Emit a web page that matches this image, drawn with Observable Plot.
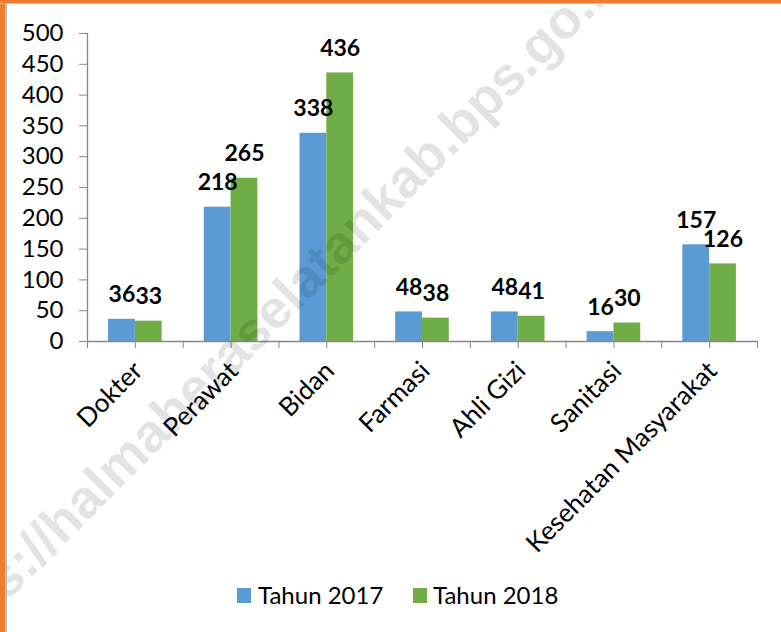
<!DOCTYPE html>
<html>
<head>
<meta charset="utf-8">
<script src="https://cdn.jsdelivr.net/npm/d3@7"></script>
<script src="https://cdn.jsdelivr.net/npm/@observablehq/plot@0.6"></script>
<style>
  html, body { margin: 0; padding: 0; background: #fff; }
  #page { position: relative; width: 781px; height: 632px; overflow: hidden; background: #fff; font-family: Lato, sans-serif; }
  #borderLeft { position: absolute; left: 0; top: 0; width: 5px; height: 632px; background: #ED7D31; border-right: 2px solid #bdbdbd; }
  #borderTop { position: absolute; left: 0; top: 0; width: 781px; height: 3px; background: #ED7D31; border-bottom: 1px solid #bdbdbd; }
  #chart { position: absolute; left: 0; top: 0; }
  #legend { position: absolute; left: 0; top: 580px; width: 781px; height: 32px; font-family: Lato, sans-serif; font-size: 24px; color: #000; }
  .sw { position: absolute; top: 8px; width: 14px; height: 15px; }
  .lt { position: absolute; top: 1px; line-height: 28px; }
  #wm { position: absolute; left: 0; top: 0; pointer-events: none; }
</style>
</head>
<body>
<div id="page">
  <div id="chart"></div>
  <div id="legend"></div>
  <svg id="wm" width="781" height="632"></svg>
  <div id="borderLeft"></div>
  <div id="borderTop"></div>
</div>
<script>
const categories = ["Dokter", "Perawat", "Bidan", "Farmasi", "Ahli Gizi", "Sanitasi", "Kesehatan Masyarakat"];
const values2017 = [36, 218, 338, 48, 48, 16, 157];
const values2018 = [33, 265, 436, 38, 41, 30, 126];
const seriesNames = ["Tahun 2017", "Tahun 2018"];
const seriesColors = ["#5B9BD5", "#70AD47"];
const yTicks = [0, 50, 100, 150, 200, 250, 300, 350, 400, 450, 500];
const watermarkText = "https://halmaheraselatankab.bps.go.id";

const axisColor = "#868686";
const barFrac = 0.28;

const rows = [];
categories.forEach((c, i) => {
  rows.push({cat: c, i, series: seriesNames[0], s: 0, value: values2017[i]});
  rows.push({cat: c, i, series: seriesNames[1], s: 1, value: values2018[i]});
});
const x1Of = d => d.i + 0.5 + (d.s === 0 ? -barFrac : 0);
const x2Of = d => d.i + 0.5 + (d.s === 0 ? 0 : barFrac);
const xMid = d => (x1Of(d) + x2Of(d)) / 2;
const catTicks = d3.range(0, categories.length * 2 + 1).map(k => k / 2);

const chart = Plot.plot({
  width: 781,
  height: 560,
  marginLeft: 87,
  marginRight: 24,
  marginTop: 33,
  marginBottom: 219,
  style: {fontFamily: "Lato, sans-serif", background: "transparent", color: "#000"},
  x: {domain: [0, categories.length], axis: null},
  y: {domain: [0, 500], axis: null},
  color: {domain: seriesNames, range: seriesColors},
  marks: [
    Plot.rectY(rows, {x1: x1Of, x2: x2Of, y: "value", fill: "series"}),
    Plot.ruleY([0], {stroke: axisColor, strokeWidth: 1.3}),
    Plot.ruleX([0], {stroke: axisColor, strokeWidth: 1.3}),
    Plot.axisY({ticks: yTicks, label: null, tickSize: 8, tickPadding: 16, fontSize: 24, stroke: axisColor, fill: "#000"}),
    Plot.axisX({ticks: catTicks, label: null, tickFormat: () => "", tickSize: 7, stroke: axisColor}),
    Plot.text(rows, {x: xMid, y: "value", text: d => String(d.value), fontSize: 23, fontWeight: "bold", fill: "#000", textAnchor: "middle", lineAnchor: "bottom", dy: -17}),
    Plot.text(categories, {x: (d, i) => i + 0.5, y: () => 0, text: d => d, rotate: -45, textAnchor: "end", lineAnchor: "middle", fontSize: 26, fill: "#000", dx: 3, dy: 25})
  ]
});
document.getElementById("chart").appendChild(chart);

// Legend
const legend = document.getElementById("legend");
const legendPos = [{sw: 237, tx: 258}, {sw: 413, tx: 433}];
seriesNames.forEach((name, k) => {
  const sw = document.createElement("div");
  sw.className = "sw";
  sw.style.left = legendPos[k].sw + "px";
  sw.style.background = seriesColors[k];
  legend.appendChild(sw);
  const t = document.createElement("div");
  t.className = "lt";
  t.style.left = legendPos[k].tx + "px";
  t.textContent = name;
  legend.appendChild(t);
});

// Watermark
const wm = d3.select("#wm");
wm.append("text")
  .attr("transform", "translate(-78,660) rotate(-45)")
  .attr("dominant-baseline", "central")
  .attr("font-family", "'Liberation Sans', Arial, sans-serif")
  .attr("font-weight", "bold")
  .attr("font-size", 54)
  .attr("fill", "rgba(0,0,0,0.11)")
  .text(watermarkText);
</script>
</body>
</html>
